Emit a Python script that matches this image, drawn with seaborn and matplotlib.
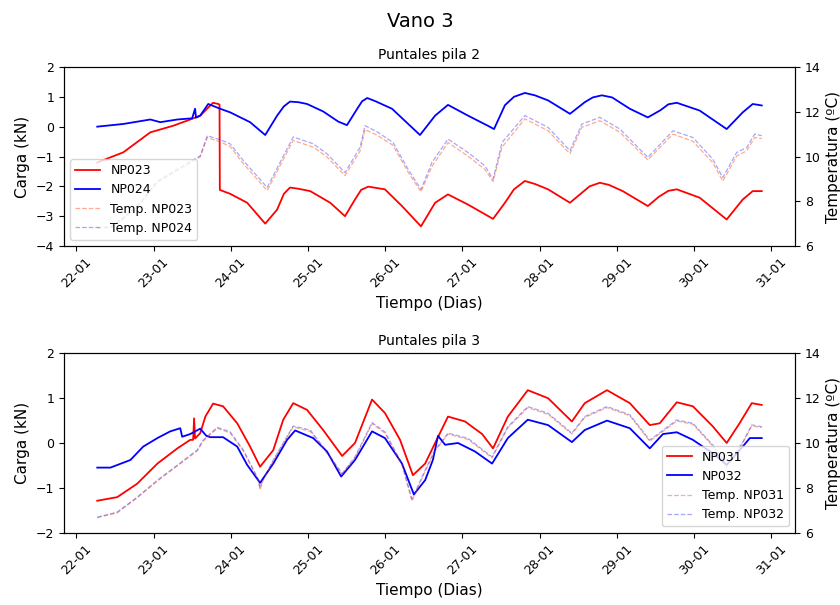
import matplotlib
matplotlib.use("Agg")
import matplotlib.pyplot as plt
import matplotlib.dates as mdates
import pandas as pd
import seaborn as sns

START = pd.Timestamp("2023-01-22 00:00")

# ---------------- Panel 1: Puntales pila 2 ----------------
np023_h = [6.5, 14.6, 23.0, 30.1, 35.4, 38.5, 42.5, 44.1, 44.5, 44.6,
           47.8, 53.1, 58.7, 62.4, 64.5, 66.4, 69.0, 72.7, 78.9, 83.5,
           86.6, 88.5, 90.7, 95.9, 101.2, 107.1, 111.5, 115.5, 121.7, 129.5,
           133.2, 136.0, 139.4, 142.5, 146.6, 153.4, 156.5, 159.5, 162.7, 165.5,
           169.8, 177.6, 181.0, 184.0, 186.6, 193.7, 202.1, 207.1, 210.2, 213.0]
np023_kn = [-1.2, -0.86, -0.19, 0.03, 0.24, 0.37, 0.8, 0.76, 0.74, -2.12,
            -2.25, -2.55, -3.25, -2.78, -2.25, -2.04, -2.08, -2.16, -2.55, -3.0,
            -2.44, -2.12, -2.01, -2.1, -2.66, -3.34, -2.55, -2.27, -2.61, -3.09,
            -2.55, -2.1, -1.82, -1.92, -2.1, -2.55, -2.27, -2.0, -1.88, -1.95,
            -2.16, -2.66, -2.35, -2.15, -2.1, -2.38, -3.11, -2.44, -2.16, -2.16]

np024_h = [6.5, 14.6, 23.0, 26.1, 31.4, 36.0, 36.9, 37.2, 38.5, 41.0,
           44.7, 47.8, 54.0, 58.7, 62.4, 64.5, 66.4, 69.0, 71.7, 76.7,
           81.4, 84.1, 87.0, 88.8, 90.4, 93.0, 98.1, 106.8, 111.5, 115.5,
           121.7, 127.9, 129.8, 133.2, 136.0, 139.4, 142.5, 146.6, 153.4, 158.0,
           160.5, 163.3, 166.5, 172.0, 177.6, 181.5, 184.0, 186.6, 193.7, 202.1,
           207.1, 210.2, 213.0]
np024_kn = [0.0, 0.09, 0.24, 0.15, 0.24, 0.28, 0.6, 0.3, 0.37, 0.76,
            0.6, 0.48, 0.15, -0.28, 0.37, 0.68, 0.84, 0.82, 0.76, 0.51,
            0.17, 0.05, 0.55, 0.85, 0.96, 0.85, 0.6, -0.28, 0.37, 0.73,
            0.37, 0.03, -0.08, 0.72, 1.0, 1.13, 1.05, 0.88, 0.43, 0.82,
            0.98, 1.05, 0.98, 0.6, 0.31, 0.55, 0.75, 0.8, 0.54, -0.08,
            0.48, 0.76, 0.71]

temp_p2_h = [6.5, 10.6, 14.6, 19.9, 25.2, 31.4, 38.5, 40.7,
             44.7, 47.8, 51.9, 59.3, 67.4, 73.6, 77.9, 83.5,
             88.2, 89.7, 93.5, 98.4, 103.1, 107.1, 110.5, 115.5,
             121.7, 127.0, 129.5, 132.3, 139.4, 146.6, 153.4, 157.1,
             162.7, 168.9, 177.6, 185.4, 191.6, 197.8, 200.9, 205.2,
             208.3, 210.8, 213.0]
temp_np023 = [6.8, 6.83, 7.22, 7.9, 8.85, 9.38, 9.98, 10.85,
              10.65, 10.45, 9.68, 8.48, 10.72, 10.42, 9.98, 9.15,
              10.25, 11.2, 10.95, 10.5, 9.3, 8.42, 9.55, 10.62,
              10.02, 9.42, 8.88, 10.42, 11.68, 11.15, 10.12, 11.3,
              11.6, 11.08, 9.85, 11.0, 10.68, 9.72, 8.9, 10.02,
              10.25, 10.85, 10.8]
temp_np024 = [6.82, 6.85, 7.26, 7.93, 8.9, 9.43, 10.03, 10.93,
              10.75, 10.57, 9.82, 8.62, 10.87, 10.57, 10.12, 9.28,
              10.42, 11.38, 11.1, 10.63, 9.43, 8.53, 9.73, 10.78,
              10.18, 9.58, 8.98, 10.63, 11.83, 11.3, 10.26, 11.45,
              11.75, 11.23, 9.96, 11.15, 10.85, 9.88, 9.06, 10.18,
              10.4, 11.0, 10.93]

# ---------------- Panel 2: Puntales pila 3 ----------------
np031_h = [6.5, 12.7, 18.9, 25.2, 31.4, 35.4, 36.3, 36.6, 36.9, 38.5,
           40.1, 42.5, 45.6, 50.0, 54.0, 57.1, 61.2, 64.3, 67.4, 71.7,
           76.7, 82.6, 86.6, 91.9, 95.9, 100.6, 104.6, 108.4, 111.5, 115.5,
           120.8, 126.1, 129.5, 134.1, 140.3, 146.6, 154.0, 158.0, 164.9, 172.0,
           178.2, 181.3, 186.6, 191.6, 197.8, 202.1, 206.1, 209.9, 213.0]
np031_kn = [-1.29, -1.21, -0.91, -0.46, -0.12, 0.07, 0.07, 0.55, 0.1, 0.22,
            0.59, 0.88, 0.82, 0.44, -0.08, -0.53, -0.16, 0.52, 0.89, 0.74,
            0.29, -0.29, 0.0, 0.97, 0.67, 0.07, -0.72, -0.46, 0.0, 0.59,
            0.48, 0.2, -0.12, 0.59, 1.18, 1.0, 0.48, 0.89, 1.18, 0.89,
            0.4, 0.44, 0.91, 0.82, 0.37, 0.0, 0.44, 0.89, 0.85]

np032_h = [6.5, 10.6, 16.8, 20.8, 25.2, 29.2, 32.3, 32.9, 35.4, 38.5,
           40.4, 41.6, 45.6, 50.0, 53.1, 57.1, 61.2, 65.5, 68.0, 73.6,
           77.9, 82.3, 86.6, 91.9, 95.9, 101.2, 104.9, 108.4, 110.8, 112.4,
           114.6, 118.6, 123.9, 129.2, 134.1, 140.3, 146.6, 154.0, 158.0, 164.9,
           172.0, 178.2, 182.3, 186.6, 191.6, 197.8, 202.1, 207.1, 209.3, 213.0]
np032_kn = [-0.55, -0.55, -0.38, -0.08, 0.11, 0.26, 0.33, 0.14, 0.2, 0.32,
            0.16, 0.13, 0.13, -0.08, -0.49, -0.89, -0.46, 0.07, 0.28, 0.11,
            -0.19, -0.75, -0.38, 0.26, 0.11, -0.46, -1.15, -0.83, -0.38, 0.16,
            -0.04, 0.0, -0.19, -0.46, 0.11, 0.52, 0.4, 0.02, 0.29, 0.5,
            0.33, -0.12, 0.2, 0.24, 0.07, -0.23, -0.49, -0.08, 0.11, 0.11]

temp_p3_h = [6.5, 12.7, 18.9, 25.2, 31.4, 37.6, 39.4, 43.8, 47.8, 51.9,
             56.5, 57.1, 57.8, 61.2, 67.4, 72.7, 76.7, 82.6, 86.6, 91.9,
             95.9, 101.2, 104.3, 108.4, 111.5, 115.5, 121.7, 129.2, 134.1, 140.3,
             146.6, 154.0, 158.0, 164.9, 172.0, 178.2, 186.6, 191.6, 197.8, 202.1,
             207.1, 209.9, 213.0]
temp_np031 = [6.66, 6.88, 7.55, 8.3, 8.98, 9.65, 10.08, 10.66, 10.45, 9.64,
              8.35, 7.9, 8.25, 9.2, 10.72, 10.52, 9.78, 8.6, 9.33, 10.86,
              10.44, 9.02, 7.4, 8.74, 9.64, 10.4, 10.16, 9.33, 10.68, 11.58,
              11.28, 10.4, 11.14, 11.58, 11.22, 10.08, 10.98, 10.84, 9.86, 8.96,
              9.99, 10.76, 10.69]
temp_np032 = [6.69, 6.91, 7.58, 8.34, 9.01, 9.69, 10.13, 10.7, 10.5, 9.69,
              8.4, 8.0, 8.3, 9.24, 10.76, 10.58, 9.83, 8.64, 9.38, 10.91,
              10.5, 9.08, 7.5, 8.79, 9.69, 10.44, 10.21, 9.38, 10.73, 11.63,
              11.33, 10.44, 11.18, 11.63, 11.26, 10.13, 11.03, 10.88, 9.91, 9.01,
              10.04, 10.81, 10.73]

load_labels_p2 = ["NP023", "NP024"]
temp_labels_p2 = ["Temp. NP023", "Temp. NP024"]
load_labels_p3 = ["NP031", "NP032"]
temp_labels_p3 = ["Temp. NP031", "Temp. NP032"]


def to_time(hours):
    return START + pd.to_timedelta(hours, unit="h")


def panel(ax, title, loads, temps, ylim, legend_loc):
    ax2 = ax.twinx()
    for (h, v, lab, col) in loads:
        sns.lineplot(x=to_time(h), y=v, ax=ax, color=col, lw=1.3,
                     label=lab, estimator=None, sort=False)
    for (h, v, lab, col, a) in temps:
        sns.lineplot(x=to_time(h), y=v, ax=ax2, color=col, lw=0.9,
                     linestyle="--", alpha=a, label=lab,
                     estimator=None, sort=False)
    for a in (ax, ax2):
        if a.get_legend() is not None:
            a.get_legend().remove()
    ax.set_ylim(*ylim)
    ax2.set_ylim(6, 14)
    ax2.set_yticks([6, 8, 10, 12, 14])
    ax.set_title(title, fontsize=10)
    ax.set_ylabel("Carga (kN)", fontsize=11)
    ax2.set_ylabel("Temperatura (ºC)", fontsize=11)
    ax.set_xlabel("Tiempo (Dias)", fontsize=11)
    ax.xaxis.set_major_locator(mdates.DayLocator())
    ax.xaxis.set_major_formatter(mdates.DateFormatter("%d-%m"))
    plt.setp(ax.get_xticklabels(), rotation=45)
    ax.tick_params(labelsize=9)
    ax2.tick_params(labelsize=9)
    h1, l1 = ax.get_legend_handles_labels()
    h2, l2 = ax2.get_legend_handles_labels()
    ax2.legend(h1 + h2, l1 + l2, loc=legend_loc, fontsize=9)
    return ax2


fig, (ax_a, ax_b) = plt.subplots(2, 1, figsize=(8.4, 6.05), dpi=100)
fig.subplots_adjust(left=0.0762, right=0.9464, top=0.8893, bottom=0.1198,
                    hspace=0.6)

panel(ax_a, "Puntales pila 2",
      [(np023_h, np023_kn, load_labels_p2[0], "red"),
       (np024_h, np024_kn, load_labels_p2[1], "blue")],
      [(temp_p2_h, temp_np023, temp_labels_p2[0], "orangered", 0.45),
       (temp_p2_h, temp_np024, temp_labels_p2[1], "blue", 0.35)],
      (-4, 2), "lower left")

panel(ax_b, "Puntales pila 3",
      [(np031_h, np031_kn, load_labels_p3[0], "red"),
       (np032_h, np032_kn, load_labels_p3[1], "blue")],
      [(temp_p3_h, temp_np031, temp_labels_p3[0], "orangered", 0.45),
       (temp_p3_h, temp_np032, temp_labels_p3[1], "blue", 0.35)],
      (-2, 2), "lower right")

fig.suptitle("Vano 3", fontsize=14, y=0.98)
fig.savefig("out.png", dpi=100)
